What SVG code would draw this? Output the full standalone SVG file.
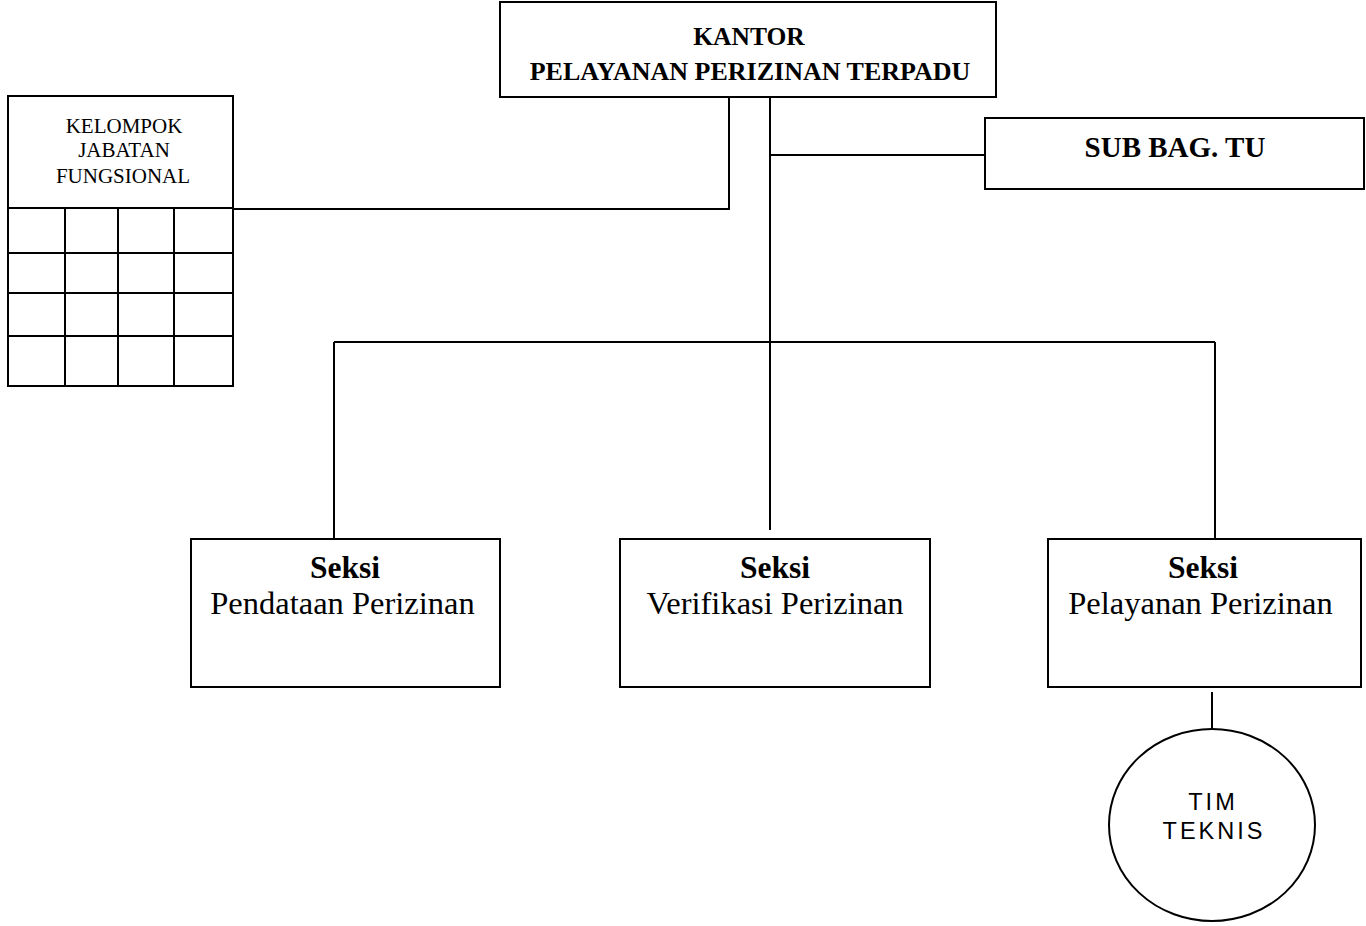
<svg xmlns="http://www.w3.org/2000/svg" width="1366" height="926" viewBox="0 0 1366 926">
<style>
.box{fill:#fff;stroke:#000;stroke-width:2}
.ln{stroke:#000;stroke-width:2;fill:none}
.tb{font-family:"Liberation Serif","Times New Roman",serif;font-weight:bold;text-anchor:middle;fill:#000}
.tr{font-family:"Liberation Serif","Times New Roman",serif;text-anchor:middle;fill:#000}
.ts{font-family:"Liberation Sans",Arial,sans-serif;text-anchor:middle;fill:#000;letter-spacing:3px}
</style>
<rect width="1366" height="926" fill="#fff"/>
<g id="connectors" class="ln">
<polyline points="729,97 729,209 234,209"/>
<line x1="770" y1="97" x2="770" y2="530"/>
<line x1="770" y1="155" x2="985" y2="155"/>
<line x1="334" y1="342" x2="1215" y2="342"/>
<line x1="334" y1="342" x2="334" y2="539"/>
<line x1="1215" y1="342" x2="1215" y2="539"/>
<line x1="1212" y1="692" x2="1212" y2="729"/>
</g>
<g id="kantor">
<rect class="box" x="500" y="2" width="496" height="95"/>
<text class="tb" x="749" y="45" font-size="25.5">KANTOR</text>
<text class="tb" x="750" y="80" font-size="26">PELAYANAN PERIZINAN TERPADU</text>
</g>
<g id="subbag">
<rect class="box" x="985" y="118" width="379" height="71"/>
<text class="tb" x="1175" y="157" font-size="29">SUB BAG. TU</text>
</g>
<g id="kelompok">
<rect class="box" x="8" y="96" width="225" height="290"/>
<line class="ln" x1="8" y1="208" x2="233" y2="208"/>
<line class="ln" x1="8" y1="253" x2="233" y2="253"/>
<line class="ln" x1="8" y1="293" x2="233" y2="293"/>
<line class="ln" x1="8" y1="336" x2="233" y2="336"/>
<line class="ln" x1="65" y1="208" x2="65" y2="386"/>
<line class="ln" x1="118" y1="208" x2="118" y2="386"/>
<line class="ln" x1="174" y1="208" x2="174" y2="386"/>
<text class="tr" x="124" y="133" font-size="21">KELOMPOK</text>
<text class="tr" x="124" y="157" font-size="21">JABATAN</text>
<text class="tr" x="123" y="183" font-size="21">FUNGSIONAL</text>
</g>
<g id="seksi-pendataan">
<rect class="box" x="191" y="539" width="309" height="148"/>
<text class="tb" x="345" y="578" font-size="31.5">Seksi</text>
<text class="tr" x="342.5" y="614" font-size="32.5">Pendataan Perizinan</text>
</g>
<g id="seksi-verifikasi">
<rect class="box" x="620" y="539" width="310" height="148"/>
<text class="tb" x="775" y="578" font-size="31.5">Seksi</text>
<text class="tr" x="775" y="614" font-size="32.5">Verifikasi Perizinan</text>
</g>
<g id="seksi-pelayanan">
<rect class="box" x="1048" y="539" width="313" height="148"/>
<text class="tb" x="1203" y="578" font-size="31.5">Seksi</text>
<text class="tr" x="1200.5" y="614" font-size="32.5">Pelayanan Perizinan</text>
</g>
<g id="tim-teknis">
<ellipse class="box" cx="1212" cy="825" rx="103" ry="96"/>
<text class="ts" x="1213" y="810" font-size="23.5">TIM</text>
<text class="ts" x="1214" y="839" font-size="23.5">TEKNIS</text>
</g>
</svg>
